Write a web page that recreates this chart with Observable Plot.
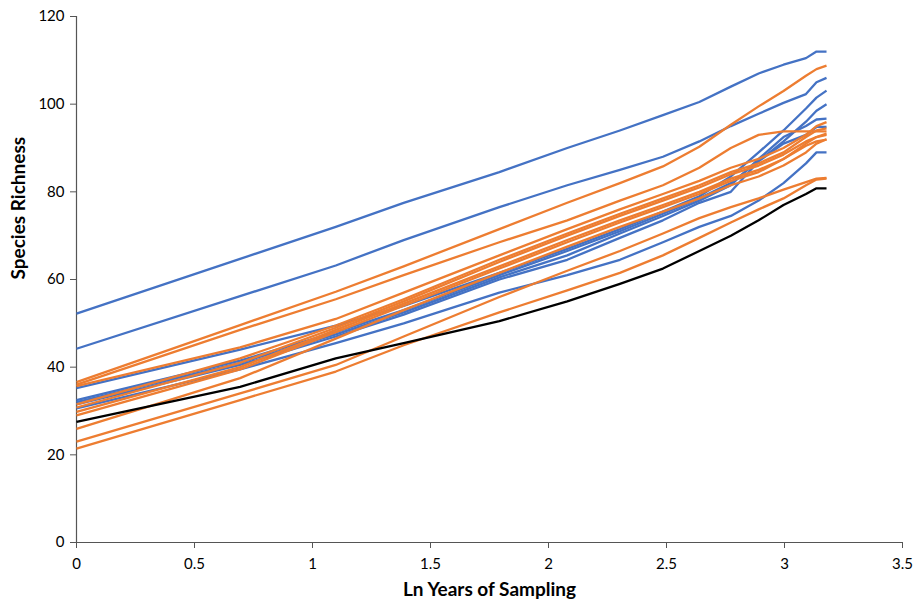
<!DOCTYPE html>
<html>
<head>
<meta charset="utf-8">
<script src="https://cdn.jsdelivr.net/npm/d3@7"></script>
<script src="https://cdn.jsdelivr.net/npm/@observablehq/plot@0.6"></script>
<style>
  html, body { margin: 0; padding: 0; background: #fff; }
  #chart { width: 921px; height: 608px; }
</style>
</head>
<body>
<div id="chart"></div>
<script>
// Years of sampling at which the curves are read (x axis shows ln of these)
const years = [1, 2, 3, 4, 6, 8, 10, 12, 14, 16, 18, 20, 22, 23, 24];

// Blue series
const blue1 = [52.2, 64.7, 72.0, 77.5, 84.5, 90.0, 94.0, 97.5, 100.5, 104.0, 107.0, 109.0, 110.5, 112.0, 112.0];
const blue2 = [44.2, 56.2, 63.2, 69.0, 76.5, 81.5, 85.0, 88.0, 91.5, 95.0, 97.8, 100.3, 102.3, 105.0, 106.0];
const blue3 = [35.2, 44.0, 49.5, 54.0, 61.5, 67.0, 71.5, 75.5, 79.0, 83.5, 89.0, 94.0, 99.0, 101.5, 103.1];
const blue4 = [32.5, 41.5, 48.0, 53.0, 61.0, 66.5, 71.0, 75.0, 78.5, 82.0, 87.0, 91.5, 96.0, 98.5, 100.0];
const blue5 = [32.0, 41.0, 47.5, 52.5, 60.5, 65.5, 70.5, 74.5, 78.0, 81.5, 87.5, 92.5, 95.0, 96.5, 96.7];
const blue6 = [31.5, 40.5, 47.0, 52.0, 60.0, 64.5, 69.5, 73.5, 77.5, 80.0, 87.0, 91.0, 93.0, 94.8, 94.8];
const blue7 = [30.6, 39.5, 45.5, 50.0, 57.0, 61.0, 64.5, 68.5, 72.0, 74.5, 78.0, 82.0, 86.5, 89.0, 89.0];

// Orange series
const orange1 = [36.6, 49.6, 57.2, 63.0, 71.5, 77.5, 82.0, 85.8, 90.3, 95.3, 99.5, 103.0, 106.5, 108.0, 108.8];
const orange2 = [36.0, 48.5, 55.5, 61.0, 68.5, 73.5, 78.0, 81.5, 85.5, 90.0, 93.0, 93.8, 93.8, 93.8, 93.8];
const orange3 = [35.7, 44.5, 51.0, 57.0, 65.5, 71.5, 76.0, 79.5, 82.5, 85.5, 87.5, 90.0, 93.0, 95.0, 95.9];
const orange4 = [31.5, 42.0, 49.5, 55.5, 64.5, 70.5, 75.0, 78.5, 81.5, 84.5, 86.5, 89.0, 92.5, 94.0, 94.5];
const orange5 = [30.8, 41.0, 49.0, 55.0, 64.0, 70.0, 74.5, 78.0, 81.0, 84.0, 86.0, 88.5, 91.5, 92.5, 93.0];
const orange6 = [29.8, 40.0, 48.5, 54.5, 63.0, 69.0, 73.5, 77.0, 80.0, 83.0, 85.0, 87.5, 90.5, 91.5, 91.9];
const orange7 = [29.0, 39.5, 48.0, 54.0, 62.5, 68.5, 73.0, 76.5, 79.5, 82.5, 84.5, 87.5, 91.0, 92.5, 93.3];
const orange8 = [25.9, 37.5, 46.5, 53.0, 61.5, 67.5, 72.0, 75.5, 78.5, 81.5, 83.5, 86.0, 89.0, 91.0, 92.0];
const orange9 = [23.0, 34.0, 40.5, 47.0, 56.0, 62.0, 66.5, 70.5, 74.0, 76.5, 78.5, 80.5, 82.2, 83.0, 83.2];
const orange10 = [21.4, 32.5, 39.0, 45.0, 52.5, 57.5, 61.5, 65.5, 69.5, 73.0, 76.0, 78.5, 81.5, 82.8, 83.0];

// Black series
const black1 = [27.5, 35.5, 42.0, 45.5, 50.5, 55.0, 59.0, 62.5, 66.5, 70.0, 73.5, 77.0, 79.5, 80.8, 80.8];

// Axis ticks and labels
const xTicks = [0, 0.5, 1, 1.5, 2, 2.5, 3, 3.5];
const yTicks = [0, 20, 40, 60, 80, 100, 120];
const xTitle = "Ln Years of Sampling";
const yTitle = "Species Richness";

const blueGroup = [blue1, blue2, blue3, blue4, blue5, blue6, blue7];
const orangeGroup = [orange1, orange2, orange3, orange4, orange5, orange6, orange7, orange8, orange9, orange10];
const blackGroup = [black1];

function toRows(group, color, prefix) {
  const rows = [];
  group.forEach((vals, i) => {
    vals.forEach((v, j) => rows.push({series: prefix + i, color, x: Math.log(years[j]), y: v}));
  });
  return rows;
}
const blueRows = toRows(blueGroup, "#4472C4", "b");
const orangeRows = toRows(orangeGroup, "#ED7D31", "o");
const blackRows = toRows(blackGroup, "#000000", "k");

const lineOpts = {x: "x", y: "y", z: "series", stroke: "color", strokeWidth: 2.3, strokeLinejoin: "round", strokeLinecap: "butt"};

const chart = Plot.plot({
  width: 921,
  height: 608,
  marginLeft: 76,
  marginRight: 19,
  marginTop: 16,
  marginBottom: 66,
  style: {fontFamily: "Lato, 'Open Sans', sans-serif", fontSize: "15px", color: "#000", background: "#fff"},
  x: {domain: [0, 3.5]},
  y: {domain: [0, 120]},
  color: {type: "identity"},
  marks: [
    Plot.axisX({ticks: xTicks, tickFormat: d => String(d), tickSize: 6, tickPadding: 10, label: null, stroke: "#555", fill: "#000", fontSize: 15}),
    Plot.axisY({ticks: yTicks, tickFormat: d => String(d), tickSize: 6, tickPadding: 6, label: null, stroke: "#555", fill: "#000", fontSize: 15}),
    Plot.ruleX([0], {stroke: "#555", strokeWidth: 1.2}),
    Plot.ruleY([0], {stroke: "#555", strokeWidth: 1.2}),
    Plot.line(blueRows, lineOpts),
    Plot.line(orangeRows, lineOpts),
    Plot.line(blackRows, lineOpts),
    Plot.text([xTitle], {frameAnchor: "bottom", dy: 53, fontWeight: "bold", fontSize: 19, fill: "#000"}),
    Plot.text([yTitle], {frameAnchor: "left", dx: -58, rotate: -90, fontWeight: "bold", fontSize: 19, fill: "#000"})
  ]
});
document.getElementById("chart").appendChild(chart);
</script>
</body>
</html>
